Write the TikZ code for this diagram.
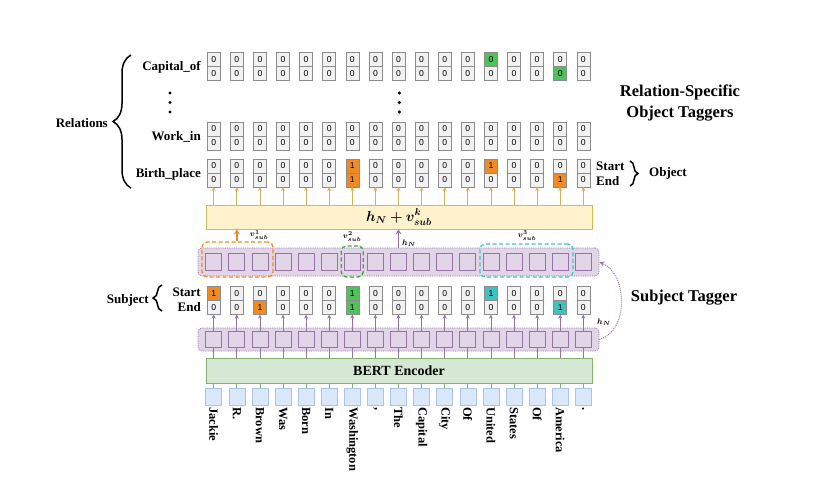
\documentclass[tikz,border=0pt]{standalone}
\usepackage{amsmath,bm}
\usepackage{fontspec}
\setmainfont{Liberation Serif}
\newfontfamily\cellfont{Liberation Sans}
\usetikzlibrary{arrows.meta,decorations.pathreplacing,calc}
\definecolor{pborder}{HTML}{9673A6}
\definecolor{pfill}{HTML}{E1D5E7}
\definecolor{yborder}{HTML}{D6B656}
\definecolor{yfill}{HTML}{FFF2CC}
\definecolor{gborder}{HTML}{82B366}
\definecolor{gfill}{HTML}{D5E8D4}
\definecolor{bborder}{HTML}{A9C4EB}
\definecolor{bfill}{HTML}{DAE8FC}
\definecolor{cellborder}{HTML}{8C8C8C}
\definecolor{cellfill}{HTML}{F2F2F2}
\definecolor{orangeC}{HTML}{F08A24}
\definecolor{greenC}{HTML}{4DC35A}
\definecolor{tealC}{HTML}{3EC1C1}
\definecolor{greenD}{HTML}{3AAA3A}
\definecolor{tealD}{HTML}{44C4C4}
\definecolor{yarrow}{HTML}{D2B35E}
\newcommand{\cellrow}[3]{%
  \foreach[count=\cidx from 0] \cst/\cvl in {#3}{%
    \node[cell,\cst] (#1-\cidx) at ({213.7+23.1*\cidx},#2) {\cvl};}}
\begin{document}
\begin{tikzpicture}[x=1pt,y=-1pt,
  cell/.style={draw=cellborder, fill=cellfill, minimum width=13pt, minimum height=14pt, inner sep=0pt, line width=0.6pt, font=\cellfont\fontsize{8.6}{8.6}\selectfont},
  zc/.style={},
  oc/.style={fill=orangeC},
  gc/.style={fill=greenC},
  tc/.style={fill=tealC},
  lab/.style={font=\bfseries\fontsize{13}{13}\selectfont, inner sep=1pt},
  title/.style={font=\bfseries\fontsize{16.5}{20.6}\selectfont, align=center, inner sep=0pt},
  psq/.style={draw=pborder, fill=pfill, line width=0.8pt, minimum width=16pt, inner sep=0pt},
  cont/.style={draw=pborder, fill=pfill, densely dotted, line width=0.8pt, rounded corners=4pt, inner sep=0pt},
  dbox/.style={dashed, line width=1.3pt, rounded corners=5pt, inner sep=0pt, dash pattern=on 4pt off 2.5pt},
  tokbox/.style={draw=bborder, fill=bfill, line width=0.6pt, minimum width=16pt, minimum height=17pt, inner sep=0pt},
  toktext/.style={font=\bfseries\fontsize{12.5}{12.5}\selectfont, inner sep=1pt},
  yarr/.style={draw=yarrow, line width=0.7pt, -{Stealth[length=4pt,width=4pt]}},
  parr/.style={draw=pborder, line width=0.8pt, -{Stealth[length=4pt,width=4pt]}},
  pline/.style={draw=pborder, line width=0.8pt},
  gline/.style={draw=gborder, line width=0.8pt},
  brc/.style={decorate, line width=1.5pt},
  smath/.style={font=\fontsize{8.5}{8.5}\selectfont, inner sep=0pt}
]
\useasboundingbox (0,0) rectangle (826,482);

% ---------- relation rows ----------
\cellrow{cs}{59.6}{zc/0,zc/0,zc/0,zc/0,zc/0,zc/0,zc/0,zc/0,zc/0,zc/0,zc/0,zc/0,gc/0,zc/0,zc/0,zc/0,zc/0}
\cellrow{ce}{73.4}{zc/0,zc/0,zc/0,zc/0,zc/0,zc/0,zc/0,zc/0,zc/0,zc/0,zc/0,zc/0,zc/0,zc/0,zc/0,gc/0,zc/0}
\cellrow{ws}{129}{zc/0,zc/0,zc/0,zc/0,zc/0,zc/0,zc/0,zc/0,zc/0,zc/0,zc/0,zc/0,zc/0,zc/0,zc/0,zc/0,zc/0}
\cellrow{we}{142.8}{zc/0,zc/0,zc/0,zc/0,zc/0,zc/0,zc/0,zc/0,zc/0,zc/0,zc/0,zc/0,zc/0,zc/0,zc/0,zc/0,zc/0}
\cellrow{bs}{166}{zc/0,zc/0,zc/0,zc/0,zc/0,zc/0,oc/1,zc/0,zc/0,zc/0,zc/0,zc/0,oc/1,zc/0,zc/0,zc/0,zc/0}
\cellrow{be}{179.8}{zc/0,zc/0,zc/0,zc/0,zc/0,zc/0,oc/1,zc/0,zc/0,zc/0,zc/0,zc/0,zc/0,zc/0,zc/0,oc/1,zc/0}

\node[lab, anchor=east] (lcap) at (202,67) {Capital\_of};
\node[lab, anchor=east] (lwork) at (202,137) {Work\_in};
\node[lab, anchor=east] (lbirth) at (202,174) {Birth\_place};
\foreach \yy in {93,102.5,112}{
  \fill (170,\yy) circle (1.7pt);
  \fill (399.3,\yy) circle (1.7pt);
}
\draw[brc, decoration={brace, amplitude=18pt}] (131,188) -- (131,55);
\node[lab, anchor=east] (lrel) at (109,123) {Relations};

\node[lab, anchor=west] (lstart) at (595,166) {Start};
\node[lab, anchor=west] (lend) at (595,181) {End};
\draw[brc, decoration={brace, amplitude=8pt}] (630,161) -- (630,186);
\node[lab, anchor=west] (lobj) at (648,173) {Object};
\node[title] (trel) at (680,103) {Relation-Specific\\Object Taggers};

% ---------- yellow box ----------
\node[draw=yborder, fill=yfill, line width=0.8pt, minimum width=386pt, minimum height=24pt, inner sep=0pt] (ybox) at (399,217)
  {\fontsize{14}{14}\selectfont$\boldsymbol{h_N + v^{k}_{sub}}$};
\foreach \i in {0,...,16}{
  \draw[yarr] (ybox.north -| be-\i) -- (be-\i.south);
}

% ---------- upper purple container ----------
\node[cont, minimum width=401pt, minimum height=28pt] (ucont) at (398.5,262) {};
\foreach \i in {0,...,16}{
  \node[psq, minimum height=17pt] (usq-\i) at ({213.7+23.1*\i},261.5) {};
}
\node[dbox, draw=orangeC, minimum width=71pt, minimum height=35pt] (obox) at (237.5,259.5) {};
\node[dbox, draw=greenD, minimum width=22pt, minimum height=31pt] (gbox) at (352.2,261.5) {};
\node[dbox, draw=tealD, minimum width=93pt, minimum height=33pt] (tbox) at (526.5,260.5) {};

\draw[draw=orangeC, line width=1.5pt, -{Stealth[length=5pt,width=6pt]}] (obox.north -| usq-1) -- (ybox.south -| usq-1);
\node[smath] (v1) at (259,235) {$\boldsymbol{v^{1}_{sub}}$};
\node[smath] (v2) at (352,236.5) {$\boldsymbol{v^{2}_{sub}}$};
\node[smath] (v3) at (527,235.5) {$\boldsymbol{v^{3}_{sub}}$};
\draw[draw=pborder, line width=1.5pt, -{Stealth[length=5pt,width=6pt]}] (ucont.north -| usq-8) -- (ybox.south -| usq-8);
\node[smath] (hn1) at (409,243) {$\boldsymbol{h_N}$};

% ---------- subject rows ----------
\cellrow{ss}{293.5}{oc/1,zc/0,zc/0,zc/0,zc/0,zc/0,gc/1,zc/0,zc/0,zc/0,zc/0,zc/0,tc/1,zc/0,zc/0,zc/0,zc/0}
\cellrow{se}{307.3}{zc/0,zc/0,oc/1,zc/0,zc/0,zc/0,gc/1,zc/0,zc/0,zc/0,zc/0,zc/0,zc/0,zc/0,zc/0,tc/1,zc/0}
\node[lab, anchor=east] (sstart) at (202,292) {Start};
\node[lab, anchor=east] (send) at (202,307) {End};
\draw[brc, decoration={brace, amplitude=9pt}] (162,311) -- (162,285);
\node[lab, anchor=east] (lsubj) at (150,300) {Subject};
\node[title] (tsub) at (684,298) {Subject Tagger};

% ---------- lower purple container ----------
\node[cont, minimum width=401pt, minimum height=23pt] (lcont) at (398.5,339.5) {};
\foreach \i in {0,...,16}{
  \node[psq, minimum height=16pt] (lsq-\i) at ({213.7+23.1*\i},339.5) {};
  \draw[parr] (lsq-\i.north) -- (se-\i.south);
}

% ---------- BERT ----------
\node[draw=gborder, fill=gfill, line width=0.8pt, minimum width=386pt, minimum height=25pt, inner sep=0pt,
  font=\bfseries\fontsize{14}{14}\selectfont] (bert) at (399,370.5) {BERT Encoder};
\foreach \i in {0,...,16}{
  \draw[pline] (bert.north -| lsq-\i) -- (lsq-\i.south);
}

% ---------- tokens ----------
\foreach[count=\i from 0] \w in {Jackie,R.,Brown,Was,Born,In,Washington,{,},The,Capital,City,Of,United,States,Of,America,.}{
  \node[tokbox] (tok-\i) at ({213.7+23.1*\i},396.5) {};
  \draw[gline] (tok-\i.north) -- (bert.south -| tok-\i);
  \node[toktext, rotate=-90, anchor=west] (tt-\i) at ({213.7+23.1*\i},406) {\w};
}

% ---------- recurrent dotted arrow ----------
\draw[draw=pborder, densely dotted, line width=1pt, -{Stealth[length=5pt,width=5pt]}]
  (lcont.east) .. controls (629,331) and (628,274) .. (ucont.east);
\node[smath] (hn2) at (604,322) {$\boldsymbol{h_N}$};
\end{tikzpicture}
\end{document}
